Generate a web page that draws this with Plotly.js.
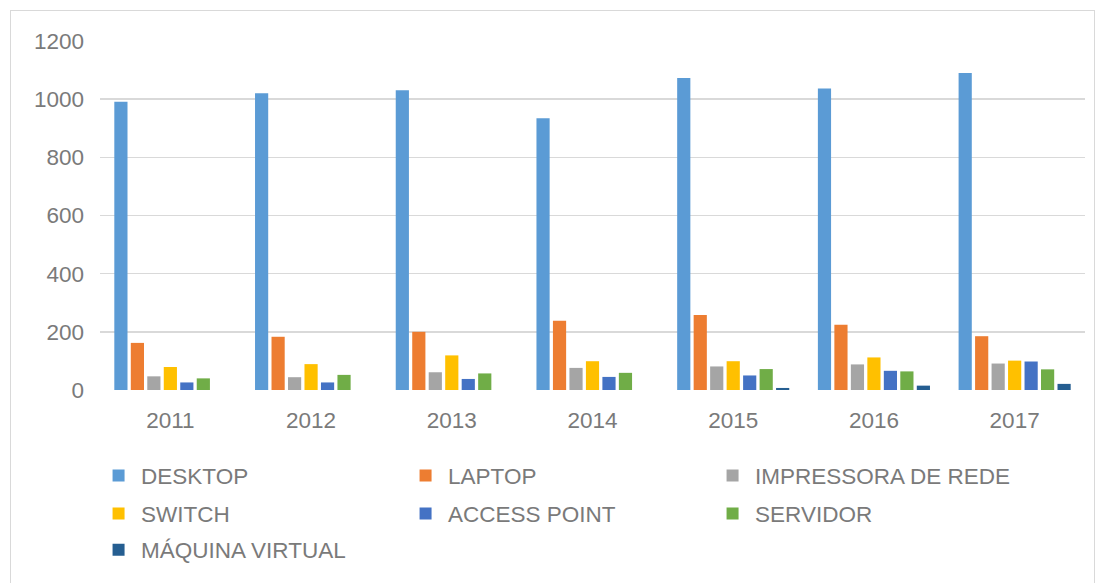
<!DOCTYPE html>
<html>
<head>
<meta charset="utf-8">
<script src="https://cdn.plot.ly/plotly-3.0.1.min.js"></script>
<style>
html,body{margin:0;padding:0;background:#fff;}
#frame{position:absolute;left:10px;top:10px;width:1085px;height:580px;border:1px solid #d9d9d9;box-sizing:border-box;pointer-events:none;z-index:5;}
#chart{position:absolute;left:0;top:0;width:1101px;height:583px;}
</style>
</head>
<body>
<div id="chart"></div>
<div id="frame"></div>
<script>
const years = ['2011','2012','2013','2014','2015','2016','2017'];
const seriesNames = ['DESKTOP','LAPTOP','IMPRESSORA DE REDE','SWITCH','ACCESS POINT','SERVIDOR','MÁQUINA VIRTUAL'];
const desktop    = [991, 1020, 1031, 934, 1073, 1037, 1090];
const laptop     = [162, 183, 200, 238, 258, 224, 185];
const impressora = [47, 44, 61, 76, 81, 88, 91];
const switchVals = [79, 89, 119, 99, 99, 112, 101];
const accessPt   = [26, 26, 38, 45, 50, 66, 98];
const servidor   = [40, 52, 57, 59, 72, 64, 71];
const maquinaVirtual = [0, 0, 0, 0, 7, 15, 21];
const colors = ['#5B9BD5','#ED7D31','#A5A5A5','#FFC000','#4472C4','#70AD47','#255E91'];
const legendRows = ['legend','legend','legend','legend2','legend2','legend2','legend3'];

const allValues = [desktop, laptop, impressora, switchVals, accessPt, servidor, maquinaVirtual];
const traces = allValues.map((vals, i) => ({
  type: 'bar',
  name: seriesNames[i],
  x: years,
  y: vals,
  marker: {color: colors[i]},
  legend: legendRows[i],
  hoverinfo: 'x+y+name'
}));

const textColor = '#7a7a7a';
function legendAt(y) {
  return {
    orientation: 'h',
    x: -0.004,
    xanchor: 'left',
    y: y,
    yanchor: 'middle',
    itemwidth: 35,
    entrywidth: 257,
    entrywidthmode: 'pixels',
    traceorder: 'normal',
    font: {size: 22.5, color: textColor},
    bgcolor: 'rgba(0,0,0,0)'
  };
}

const layout = {
  width: 1101,
  height: 583,
  margin: {l: 100, r: 16, t: 41, b: 193, autoexpand: false},
  paper_bgcolor: '#ffffff',
  plot_bgcolor: '#ffffff',
  barmode: 'group',
  bargap: 0.18,
  bargroupgap: 0.2,
  font: {family: 'Liberation Sans, Arial, sans-serif', color: textColor, size: 22.5},
  xaxis: {
    type: 'category',
    showgrid: false,
    zeroline: false,
    showline: false,
    ticks: '',
    tickfont: {size: 22.5, color: textColor},
    ticklabelstandoff: 14
  },
  yaxis: {
    range: [0, 1200],
    tickvals: [0,200,400,600,800,1000,1200],
    showgrid: true,
    gridcolor: '#d9d9d9',
    gridwidth: 1.5,
    zeroline: false,
    showline: false,
    ticks: '',
    tickfont: {size: 22.5, color: textColor},
    ticklabelstandoff: 15
  },
  legend: legendAt(-0.2464),
  legend2: legendAt(-0.3553),
  legend3: legendAt(-0.4585),
  showlegend: true
};

Plotly.newPlot('chart', traces, layout, {displayModeBar: false, staticPlot: true});
</script>
</body>
</html>
